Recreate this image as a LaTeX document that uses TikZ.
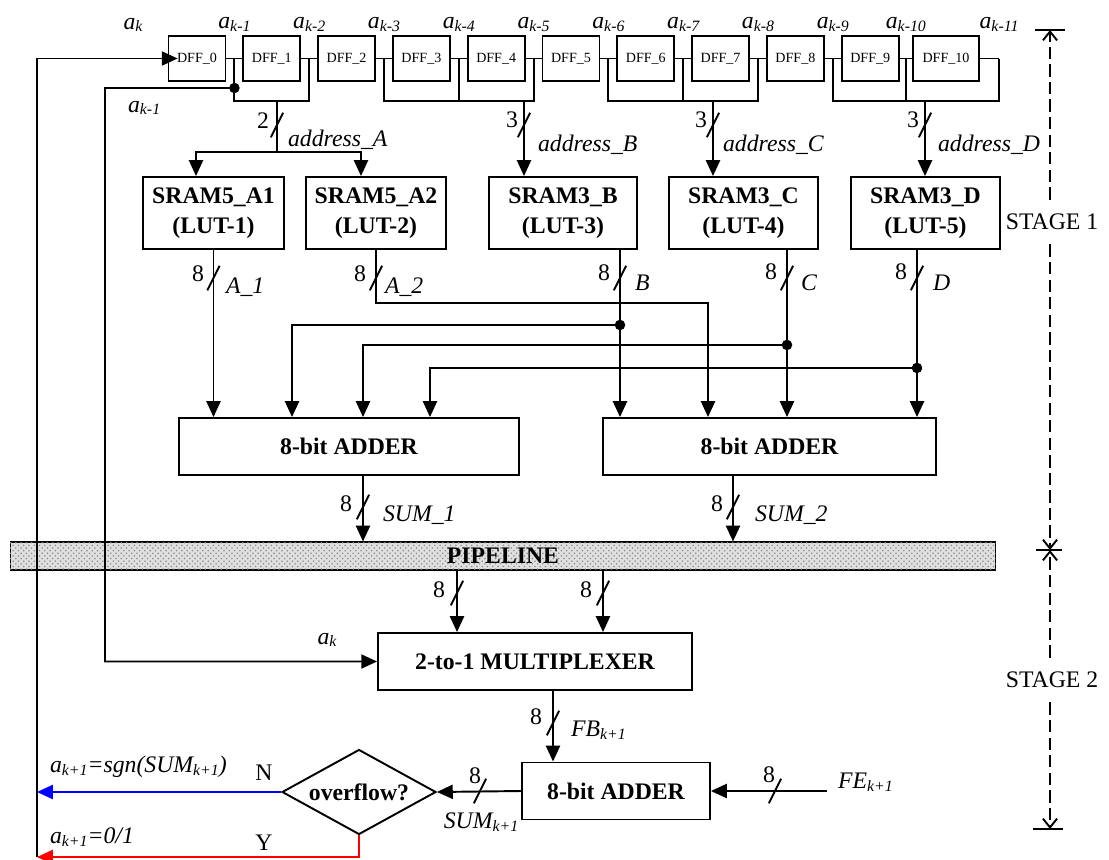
\documentclass[tikz,border=0pt]{standalone}
\usepackage{fontspec}
\setmainfont{Liberation Serif}
\usetikzlibrary{arrows.meta, positioning, calc, shapes.geometric, patterns}

\newcommand{\isub}[2]{\textit{#1}\raisebox{-0.25ex}{\fontsize{9}{9}\selectfont\textit{#2}}}

\tikzset{
  wire/.style={line width=1.1pt},
  arr/.style={wire, -{Triangle[length=9pt,width=8pt]}},
  dff/.style={
    rectangle, draw, line width=1pt,
    minimum width=1.14cm, minimum height=0.9cm, inner sep=0pt,
    font=\fontsize{8}{9}\selectfont
  },
  lut/.style={
    rectangle, draw, line width=1.1pt,
    minimum height=1.44cm, align=center,
    font=\fontsize{13.5}{17}\selectfont\bfseries
  },
  blk/.style={
    rectangle, draw, line width=1.1pt,
    minimum height=1.14cm,
    font=\fontsize{13.5}{16}\selectfont\bfseries
  },
  dot/.style={circle, fill, inner sep=0pt, minimum size=6pt},
  lbl/.style={font=\fontsize{13.5}{16}\selectfont\itshape, inner sep=1pt},
  num/.style={font=\fontsize{13.5}{16}\selectfont, inner sep=1pt},
  stg/.style={wire, dash pattern=on 7pt off 3pt, -{Straight Barb[length=5pt,width=8pt]}},
  busmark/.pic={\draw[line width=1.1pt] (-3.5pt,-7pt) -- (3.5pt,7pt);}
}

\begin{document}
\begin{tikzpicture}[x=0.02cm, y=-0.02cm]
  \useasboundingbox (0,0) rectangle (1109,859);

  % Shift register
  \node[dff] (dff0) at (197,58.5) {DFF\_0};
  \foreach \i [evaluate=\i as \cx using 197+74.8*\i] in {1,...,9}
    \node[dff] (dff\i) at (\cx,58.5) {DFF\_\i};
  \node[dff, minimum width=1.32cm] (dff10) at (946,58.5) {DFF\_10};
  \foreach \i [count=\j from 1] in {0,...,9} {
    \draw[wire] (dff\i.east) -- (dff\j.west);
    \coordinate (g\i) at ($(dff\i.east)!0.5!(dff\j.west)$);
  }
  \coordinate (g10) at (999,58.5);
  \draw[wire] (dff10.east) -- (g10);

  \node[lbl] (lak) at (133,25) {\isub{a}{k}};
  \foreach \i [count=\j from 1] in {0,...,10}
    \node[lbl] (lab\i) at ($(g\i)+(0,-34)$) {\isub{a}{k-\j}};

  % LUTs
  \node[lut, minimum width=2.82cm] (sramA1) at (213.5,213) {SRAM5\_A1\\(LUT-1)};
  \node[lut, minimum width=2.8cm]  (sramA2) at (376,213)   {SRAM5\_A2\\(LUT-2)};
  \node[lut, minimum width=2.96cm] (sramB)  at (563,213)   {SRAM3\_B\\(LUT-3)};
  \node[lut, minimum width=2.98cm] (sramC)  at (743.5,213) {SRAM3\_C\\(LUT-4)};
  \node[lut, minimum width=2.98cm] (sramD)  at (925.5,213) {SRAM3\_D\\(LUT-5)};

  % Address buses
  \coordinate (busA) at (277,101);
  \coordinate (busB) at (524,101);
  \coordinate (busC) at (713,101);
  \coordinate (busD) at (925,101);
  \coordinate (splitA) at (277,152);
  \draw[wire] (g0) |- (g1 |- busA) -- (g1);
  \draw[wire] (g2) |- (g4 |- busB) -- (g4);  \draw[wire] (g3) -- (g3 |- busB);
  \draw[wire] (g5) |- (g7 |- busC) -- (g7);  \draw[wire] (g6) -- (g6 |- busC);
  \draw[wire] (g8) |- (g10 |- busD) -- (g10); \draw[wire] (g9) -- (g9 |- busD);

  \draw[wire] (busA) -- (splitA);
  \draw[arr] (splitA) -| ([xshift=-0.35cm]sramA1.north);
  \draw[arr] (splitA) -| ([xshift=-0.3cm]sramA2.north);
  \draw[arr] (busB) -- (busB |- sramB.north);
  \draw[arr] (busC) -- (busC |- sramC.north);
  \draw[arr] (busD) -- (busD |- sramD.north);

  \pic at (277,125) {busmark}; \node[num] (nA) at (263,121) {2};
  \pic at (524,125) {busmark}; \node[num] (nB) at (512,120) {3};
  \pic at (713,125) {busmark}; \node[num] (nC) at (701,120) {3};
  \pic at (925,125) {busmark}; \node[num] (nD) at (913,120) {3};
  \node[lbl, anchor=west] (adA) at (286,140) {address\_A};
  \node[lbl, anchor=west] (adB) at (536,145) {address\_B};
  \node[lbl, anchor=west] (adC) at (721,145) {address\_C};
  \node[lbl, anchor=west] (adD) at (936,145) {address\_D};

  % Adders
  \node[blk, minimum width=6.8cm]  (add1) at (349,446.5)   {8-bit ADDER};
  \node[blk, minimum width=6.66cm] (add2) at (769.5,446.5) {8-bit ADDER};

  \coordinate (oB) at ([xshift=1.14cm]sramB.south);
  \coordinate (oC) at ([xshift=0.87cm]sramC.south);
  \coordinate (oD) at ([xshift=-0.17cm]sramD.south);
  \coordinate (iA2) at ([xshift=-1.23cm]add2.north);
  \coordinate (jB) at ($(oB)+(0,75)$);
  \coordinate (jC) at ($(oC)+(0,95)$);
  \coordinate (jD) at ($(oD)+(0,118)$);

  \draw[arr] (sramA1.south) -- (sramA1.south |- add1.north);
  \draw[arr] (sramA2.south) -- ++(0,53) -| (iA2);
  \draw[arr] (oB) -- (oB |- add2.north);
  \draw[arr] (oC) -- (oC |- add2.north);
  \draw[arr] (oD) -- (oD |- add2.north);
  \draw[arr] (jB) -| ([xshift=-1.14cm]add1.north);
  \draw[arr] (jC) -| ([xshift=0.28cm]add1.north);
  \draw[arr] (jD) -| ([xshift=1.62cm]add1.north);
  \node[dot] (dB) at (jB) {};
  \node[dot] (dC) at (jC) {};
  \node[dot] (dD) at (jD) {};

  \pic at (sramA1.south |- 0,278) {busmark}; \node[num] (n1) at (198,274) {8};
  \pic at (sramA2.south |- 0,278) {busmark}; \node[num] (n2) at (360,274) {8};
  \pic at (oB |- 0,278) {busmark}; \node[num] (n3) at (604,273) {8};
  \pic at (oC |- 0,278) {busmark}; \node[num] (n4) at (771,272) {8};
  \pic at (oD |- 0,278) {busmark}; \node[num] (n5) at (901,272) {8};
  \node[lbl, anchor=west] (lA1) at (224,287) {A\_1};
  \node[lbl, anchor=west] (lA2) at (383,287) {A\_2};
  \node[lbl, anchor=west] (lB)  at (633,283) {B};
  \node[lbl, anchor=west] (lC)  at (799,283) {C};
  \node[lbl, anchor=west] (lD)  at (931,283) {D};

  % Pipeline
  \node[draw, line width=0.6pt, fill=black!12,
        postaction={pattern=crosshatch dots, pattern color=black!45},
        minimum width=19.72cm, minimum height=0.56cm, inner sep=0pt,
        font=\fontsize{13.5}{16}\selectfont\bfseries] (pipe) at (503,556) {PIPELINE};

  \coordinate (oS1) at ([xshift=0.28cm]add1.south);
  \coordinate (oS2) at ([xshift=-0.73cm]add2.south);
  \draw[arr] (oS1) -- (oS1 |- pipe.north);
  \draw[arr] (oS2) -- (oS2 |- pipe.north);
  \pic at (363,507) {busmark}; \node[num] (n6) at (346,504) {8};
  \pic at (733,507) {busmark}; \node[num] (n7) at (717,504) {8};
  \node[lbl, anchor=west] (lS1) at (381,515) {SUM\_1};
  \node[lbl, anchor=west] (lS2) at (753,515) {SUM\_2};

  % Stage 2
  \node[blk, minimum width=6.28cm] (mux) at (535,661.5) {2-to-1 MULTIPLEXER};
  \coordinate (m1) at ([xshift=-1.56cm]mux.north);
  \coordinate (m2) at ([xshift=1.36cm]mux.north);
  \draw[arr] (m1 |- pipe.south) -- (m1);
  \draw[arr] (m2 |- pipe.south) -- (m2);
  \pic at (457,593) {busmark}; \node[num] (n8) at (439,590) {8};
  \pic at (603,593) {busmark}; \node[num] (n9) at (586,590) {8};

  \node[blk, minimum width=3.76cm] (add3) at (616,791) {8-bit ADDER};
  \coordinate (fb) at ([xshift=0.36cm]mux.south);
  \draw[arr] (fb) -- (fb |- add3.north);
  \pic at (553,723) {busmark}; \node[num] (n10) at (536,717) {8};
  \node[lbl, anchor=west] (lFB) at (569,730) {\isub{FB}{k+1}};

  \node[draw, diamond, aspect=1.8, line width=1.1pt,
        minimum width=3.08cm, minimum height=1.7cm, inner sep=0pt,
        font=\fontsize{13.5}{16}\selectfont\bfseries] (ovf) at (359,792) {overflow?};
  \draw[arr] (add3.west) -- (ovf.east);
  \pic at (480,791) {busmark}; \node[num] (n11) at (475,776) {8};
  \node[lbl] (lSk) at (481,822) {\isub{SUM}{k+1}};

  \coordinate (fe) at (827,791);
  \draw[arr] (fe) -- (add3.east);
  \pic at (775,791) {busmark}; \node[num] (n12) at (769,775) {8};
  \node[lbl, anchor=west] (lFE) at (836,782) {\isub{FE}{k+1}};

  % Feedback paths
  \coordinate (fbot) at (37,857);
  \draw[arr] (fbot) |- ([xshift=0.2cm]dff0.west);
  \draw[arr, color=blue] (ovf.west) -- (ovf.west -| fbot);
  \draw[arr, color=red] (ovf.south) |- (fbot);
  \node[num] (lN) at (264,773) {N};
  \node[num] (lY) at (264,843) {Y};
  \node[lbl, anchor=west] (lsgn) at (48,767)
    {\isub{a}{k+1}=sgn(\isub{SUM}{k+1})};
  \node[lbl, anchor=west] (lzero) at (48,837) {\isub{a}{k+1}=0/1};

  \coordinate (tapk) at ($(g0)+(0,29.5)$);
  \coordinate (akc) at (105,88);
  \draw[arr] (tapk) -- (akc) |- (mux.west);
  \node[dot] (dk) at (tapk) {};
  \node[lbl, anchor=west] (lak1) at (126,108) {\isub{a}{k-1}};
  \node[lbl] (lakm) at (327,640) {\isub{a}{k}};

  % Stage markers
  \coordinate (st1a) at (1050,30);
  \coordinate (st1b) at (1050,550);
  \coordinate (st2b) at (1050,829);
  \node[num, inner ysep=8pt] (st1) at (1052,222) {STAGE 1};
  \node[num, inner ysep=8pt] (st2) at (1052,680) {STAGE 2};
  \draw[stg] (st1.north -| st1a) -- (st1a);
  \draw[stg] (st1.south -| st1a) -- (st1b);
  \draw[stg] (st2.north -| st1a) -- (st1b);
  \draw[stg] (st2.south -| st1a) -- (st2b);
  \draw[wire] ($(st1a)+(-15,0)$) -- ($(st1a)+(15,0)$);
  \draw[wire] ($(st1b)+(-14,0)$) -- ($(st1b)+(12,0)$);
  \draw[wire] ($(st2b)+(-17,0)$) -- ($(st2b)+(13,0)$);
\end{tikzpicture}
\end{document}
